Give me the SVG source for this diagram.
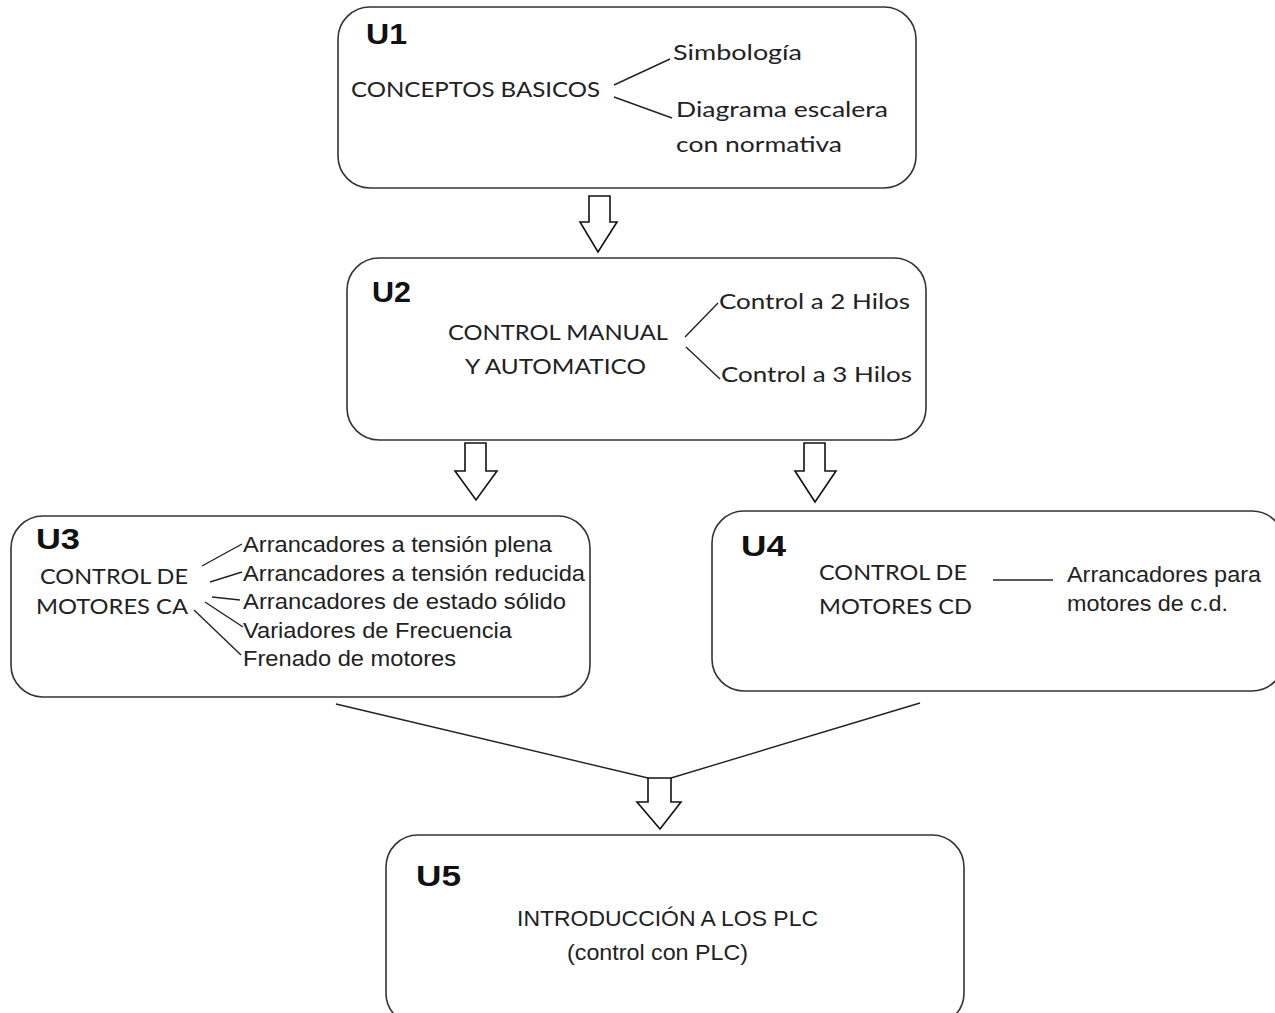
<svg xmlns="http://www.w3.org/2000/svg" width="1275" height="1013" viewBox="0 0 1275 1013">
<style>
.box{fill:#fff;stroke:#333;stroke-width:1.6}
.blk{fill:#fff;stroke:#111;stroke-width:1.6}
.ln{stroke:#222;stroke-width:1.4;fill:none}
.h{font-family:"Liberation Sans",Arial,sans-serif;font-weight:bold;font-size:29px;fill:#111}
.c{font-family:Lato,"Open Sans",sans-serif;font-size:21px;fill:#222}
.a{font-family:"Liberation Sans",Arial,sans-serif;font-size:22px;fill:#222}
</style>
<rect width="1275" height="1013" fill="#fff"/>
<g id="connectors">
<path class="blk" d="M589,196 H610 V222 H617 L598,252 L580,222 H589 Z"/>
<path class="blk" d="M465,443 H486 V471 H497 L476,500 L455,471 H465 Z"/>
<path class="blk" d="M804,443 H825 V471 H836 L815,502 L795,471 H804 Z"/>
<line class="ln" x1="336" y1="704" x2="648" y2="778"/>
<line class="ln" x1="920" y1="703" x2="671" y2="778"/>
<path class="blk" d="M648,778 H671 V802 H681 L660,829 L637,802 H648 Z"/>
</g>
<g id="U1">
<rect class="box" x="338" y="7" width="578" height="181" rx="32"/>
<text class="h" x="366" y="44" textLength="41" lengthAdjust="spacingAndGlyphs">U1</text>
<text class="c" x="351" y="97" textLength="249" lengthAdjust="spacingAndGlyphs">CONCEPTOS BASICOS</text>
<text class="c" x="673" y="60" textLength="129" lengthAdjust="spacingAndGlyphs">Simbología</text>
<text class="c" x="676" y="117" textLength="212" lengthAdjust="spacingAndGlyphs">Diagrama escalera</text>
<text class="c" x="676" y="152" textLength="166" lengthAdjust="spacingAndGlyphs">con normativa</text>
<line class="ln" x1="614" y1="85" x2="670" y2="59"/>
<line class="ln" x1="614" y1="97" x2="672" y2="118"/>
</g>
<g id="U2">
<rect class="box" x="347" y="258" width="579" height="182" rx="32"/>
<text class="h" x="372" y="302" textLength="39" lengthAdjust="spacingAndGlyphs">U2</text>
<text class="c" x="448" y="340" textLength="220" lengthAdjust="spacingAndGlyphs">CONTROL MANUAL</text>
<text class="c" x="465" y="374" textLength="181" lengthAdjust="spacingAndGlyphs">Y AUTOMATICO</text>
<text class="c" x="719" y="309" textLength="191" lengthAdjust="spacingAndGlyphs">Control a 2 Hilos</text>
<text class="c" x="721" y="382" textLength="191" lengthAdjust="spacingAndGlyphs">Control a 3 Hilos</text>
<line class="ln" x1="685" y1="337" x2="718" y2="303"/>
<line class="ln" x1="686" y1="347" x2="720" y2="379"/>
</g>
<g id="U3">
<rect class="box" x="11" y="516" width="579" height="181" rx="32"/>
<text class="h" x="36" y="549" textLength="44" lengthAdjust="spacingAndGlyphs">U3</text>
<text class="c" x="40" y="584" textLength="148" lengthAdjust="spacingAndGlyphs">CONTROL DE</text>
<text class="c" x="36" y="614" textLength="152" lengthAdjust="spacingAndGlyphs">MOTORES CA</text>
<text class="a" x="243" y="552" textLength="309" lengthAdjust="spacingAndGlyphs">Arrancadores a tensión plena</text>
<text class="a" x="243" y="581" textLength="342" lengthAdjust="spacingAndGlyphs">Arrancadores a tensión reducida</text>
<text class="a" x="243" y="609" textLength="323" lengthAdjust="spacingAndGlyphs">Arrancadores de estado sólido</text>
<text class="a" x="243" y="638" textLength="269" lengthAdjust="spacingAndGlyphs">Variadores de Frecuencia</text>
<text class="a" x="243" y="666" textLength="213" lengthAdjust="spacingAndGlyphs">Frenado de motores</text>
<line class="ln" x1="202" y1="566" x2="242" y2="544"/>
<line class="ln" x1="210" y1="582" x2="242" y2="572"/>
<line class="ln" x1="212" y1="597" x2="240" y2="600"/>
<line class="ln" x1="205" y1="602" x2="243" y2="627"/>
<line class="ln" x1="194" y1="610" x2="241" y2="655"/>
</g>
<g id="U4">
<rect class="box" x="712" y="511" width="572" height="180" rx="32"/>
<text class="h" x="741" y="556" textLength="45" lengthAdjust="spacingAndGlyphs">U4</text>
<text class="c" x="819" y="580" textLength="148" lengthAdjust="spacingAndGlyphs">CONTROL DE</text>
<text class="c" x="819" y="614" textLength="153" lengthAdjust="spacingAndGlyphs">MOTORES CD</text>
<line class="ln" x1="993" y1="580" x2="1053" y2="580"/>
<text class="a" x="1067" y="582" textLength="194" lengthAdjust="spacingAndGlyphs">Arrancadores para</text>
<text class="a" x="1067" y="611" textLength="161" lengthAdjust="spacingAndGlyphs">motores de c.d.</text>
</g>
<g id="U5">
<rect class="box" x="386" y="835" width="578" height="190" rx="32"/>
<text class="h" x="416" y="886" textLength="45" lengthAdjust="spacingAndGlyphs">U5</text>
<text class="a" x="517" y="926" textLength="301" lengthAdjust="spacingAndGlyphs">INTRODUCCIÓN A LOS PLC</text>
<text class="a" x="567" y="960" textLength="181" lengthAdjust="spacingAndGlyphs">(control con PLC)</text>
</g>
</svg>
